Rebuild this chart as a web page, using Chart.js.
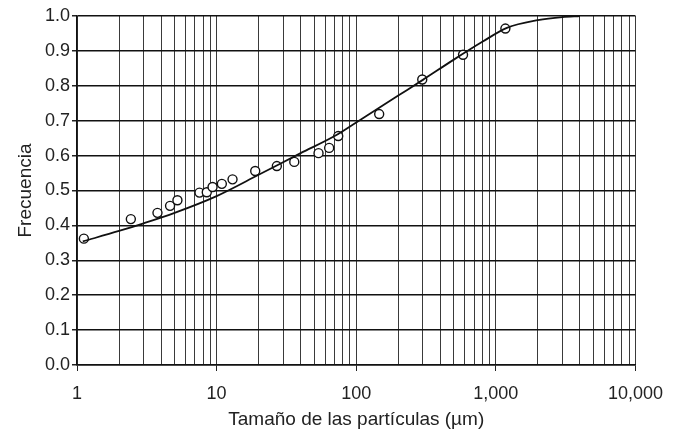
<!DOCTYPE html>
<html>
<head>
<meta charset="utf-8">
<script src="https://cdn.jsdelivr.net/npm/chart.js@4"></script>
<style>
  html, body { margin: 0; padding: 0; background: #fff; }
  #wrap { width: 675px; height: 433px; }
</style>
</head>
<body>
<div id="wrap"><canvas id="psdChart"></canvas></div>
<script>
// measured particle sizes (um) and cumulative frequency
const sizes = [1.12, 2.43, 3.77, 4.64, 5.24, 7.54, 8.5, 9.35, 10.9, 13.0, 18.9, 27.0, 36.0, 53.7, 64.0, 74.3, 146, 297, 582, 1170];
const freq = [0.362, 0.418, 0.436, 0.456, 0.472, 0.494, 0.495, 0.510, 0.519, 0.532, 0.556, 0.570, 0.582, 0.607, 0.622, 0.656, 0.719, 0.818, 0.889, 0.964];

// fitted curve
const curveX = [1.1, 2, 3, 5, 10, 20, 40, 70, 100, 200, 300, 500, 800, 1200, 2000, 3000, 4000];
const curveY = [0.354, 0.384, 0.406, 0.436, 0.484, 0.545, 0.607, 0.656, 0.695, 0.772, 0.817, 0.875, 0.926, 0.966, 0.988, 0.997, 1.0];

// axis ticks
const decades = [1, 10, 100, 1000];
const xMajor = [1, 10, 100, 1000, 10000];
const yTicks = [0, 0.1, 0.2, 0.3, 0.4, 0.5, 0.6, 0.7, 0.8, 0.9, 1.0];

const FONT = "'Liberation Sans', Arial, Helvetica, sans-serif";
Chart.defaults.font.family = FONT;
Chart.defaults.font.size = 18;
Chart.defaults.color = '#222';

const ctx = document.getElementById('psdChart').getContext('2d');

new Chart(ctx, {
  type: 'scatter',
  data: {
    datasets: [
      {
        label: 'Curva',
        type: 'line',
        data: curveX.map((x, i) => ({ x: x, y: curveY[i] })),
        borderColor: '#111',
        borderWidth: 1.8,
        pointRadius: 0,
        fill: false,
        cubicInterpolationMode: 'monotone'
      },
      {
        label: 'Datos',
        data: sizes.map((x, i) => ({ x: x, y: freq[i] })),
        pointRadius: 4.5,
        pointBorderWidth: 1.4,
        pointBorderColor: '#111',
        pointBackgroundColor: '#fff',
        showLine: false
      }
    ]
  },
  options: {
    responsive: true,
    maintainAspectRatio: false,
    animation: false,
    layout: { padding: { top: 16, right: 39, bottom: 0, left: 0 } },
    plugins: {
      legend: { display: false },
      tooltip: { enabled: false }
    },
    scales: {
      x: {
        type: 'logarithmic',
        min: 1,
        max: 10000,
        afterBuildTicks: scale => {
          const t = [];
          decades.forEach(d => { for (let k = 1; k < 10; k++) t.push({ value: d * k }); });
          t.push({ value: 10000 });
          scale.ticks = t;
        },
        afterFit: scale => { scale.height = 68; },
        ticks: {
          autoSkip: false,
          maxRotation: 0,
          padding: 12,
          callback: v => xMajor.includes(v) ? v.toLocaleString('en-US') : ''
        },
        grid: {
          color: '#3a3a3a',
          lineWidth: 1,
          tickLength: 6,
          tickColor: c => xMajor.includes(c.tick.value) ? '#222' : 'rgba(0,0,0,0)'
        },
        border: { color: '#111', width: 1.5 },
        title: {
          display: true,
          text: 'Tamaño de las partículas (µm)',
          font: { size: 19 },
          padding: { top: 2, bottom: 2 }
        }
      },
      y: {
        min: 0,
        max: 1,
        afterBuildTicks: scale => { scale.ticks = yTicks.map(v => ({ value: v })); },
        afterFit: scale => { scale.width = 77; },
        ticks: {
          padding: 2,
          callback: v => v.toFixed(1)
        },
        grid: {
          color: '#111',
          lineWidth: 1.5,
          tickLength: 5,
          tickColor: '#222'
        },
        border: { color: '#111', width: 1.5 },
        title: {
          display: true,
          text: 'Frecuencia',
          font: { size: 19 },
          padding: { top: 14, bottom: 4 }
        }
      }
    }
  }
});
</script>
</body>
</html>
